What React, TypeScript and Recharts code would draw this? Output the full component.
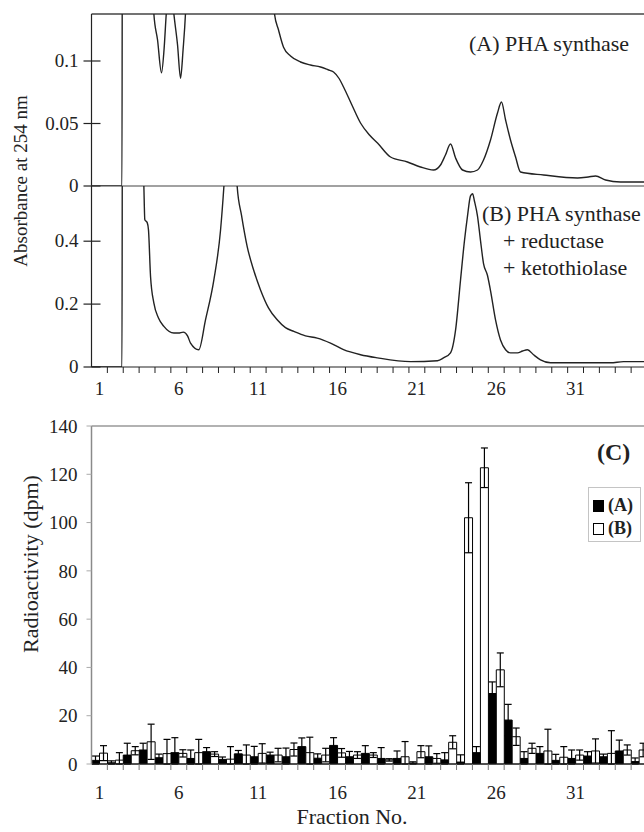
import React from "react";
import {
  LineChart,
  Line,
  BarChart,
  Bar,
  ErrorBar,
  XAxis,
  YAxis,
  ReferenceLine,
  Legend,
} from "recharts";

const FONT = '"Liberation Serif", "Times New Roman", serif';
const INK = "#222";

// fraction numbers and the labelled ones
const FRACTIONS = [
  1, 2, 3, 4, 5, 6, 7, 8, 9, 10, 11, 12, 13, 14, 15, 16, 17, 18, 19, 20, 21, 22, 23, 24, 25, 26, 27, 28, 29, 30, 31,
  32, 33, 34, 35,
];
const FRACTION_LABELS = [1, 6, 11, 16, 21, 26, 31];

// (A) PHA synthase, absorbance at 254 nm
const TRACE_A_X = [
  0.5, 2.42, 2.45, 4.2, 4.43, 4.66, 4.91, 5.07, 5.21, 5.45, 5.69, 5.92, 6.11, 6.27, 6.42, 6.6, 11.8, 12.03, 12.28,
  12.6, 13.04, 13.67, 14.3, 14.93, 15.4, 15.75, 16.1, 16.38, 16.9, 17.45, 18.0, 18.52, 19.34, 20.41, 21.23, 22.05,
  22.49, 22.8, 23.12, 23.44, 23.88, 24.38, 24.82, 25.2, 25.64, 26.08, 26.33, 26.59, 26.9, 27.22, 27.53, 28.98, 31.12,
  31.8, 32.26, 32.89, 33.83, 35.5,
];
const TRACE_A_Y = [
  0, 0, 0.3, 0.3, 0.1376, 0.117, 0.0906, 0.109, 0.1376, 0.17, 0.1376, 0.113, 0.0862, 0.109, 0.1376, 0.2, 0.2, 0.1376,
  0.125, 0.111, 0.104, 0.0992, 0.0968, 0.0952, 0.093, 0.0912, 0.086, 0.0792, 0.065, 0.0504, 0.041, 0.0344, 0.0232,
  0.0192, 0.0152, 0.0128, 0.0168, 0.0248, 0.0336, 0.0224, 0.0128, 0.0112, 0.0128, 0.0208, 0.0368, 0.0584, 0.0672,
  0.0528, 0.0368, 0.0232, 0.0112, 0.0088, 0.0064, 0.0072, 0.008, 0.0048, 0.0032, 0.0032,
];

// (B) PHA synthase + reductase + ketothiolase
const TRACE_B_X = [
  0.5, 2.42, 2.45, 3.6, 3.8, 3.86, 4.01, 4.09, 4.22, 4.43, 4.72, 5.06, 5.69, 5.98, 6.28, 6.55, 6.74, 7.26, 7.68,
  8.21, 8.63, 8.84, 9.1, 9.45, 9.68, 9.95, 10.31, 10.71, 11.15, 11.65, 12.2, 12.72, 13.25, 13.98, 14.72, 15.56, 16.38,
  17.45, 18.52, 20.6, 22.3, 22.68, 23.12, 23.44, 23.75, 24.0, 24.19, 24.38, 24.51, 24.63, 24.82, 25.01, 25.2, 25.45,
  25.64, 25.96, 26.27, 26.59, 26.9, 27.34, 27.66, 27.97, 28.35, 28.79, 29.42, 33.2, 34.02, 35.5,
];
const TRACE_B_Y = [
  0, 0, 1.0, 1.0, 0.574, 0.468, 0.459, 0.436, 0.288, 0.203, 0.156, 0.129, 0.108, 0.108, 0.111, 0.099, 0.076, 0.055,
  0.149, 0.277, 0.435, 0.573, 0.8, 0.8, 0.573, 0.483, 0.383, 0.309, 0.245, 0.188, 0.15, 0.125, 0.113, 0.099, 0.092,
  0.076, 0.055, 0.039, 0.029, 0.017, 0.02, 0.029, 0.045, 0.118, 0.276, 0.402, 0.48, 0.544, 0.551, 0.527, 0.48, 0.402,
  0.329, 0.291, 0.243, 0.149, 0.086, 0.055, 0.045, 0.045, 0.051, 0.055, 0.039, 0.023, 0.0136, 0.0136, 0.017, 0.017,
];

const ABS_A_MAX = 0.1376;
const ABS_B_MAX = 0.5755;
const ABS_A_TICKS = [0, 0.05, 0.1];
const ABS_B_TICKS = [0, 0.2, 0.4];

// (C) radioactivity per fraction
const DPM_MAX = 140;
const DPM_TICKS = [0, 20, 40, 60, 80, 100, 120, 140];
const DPM_A = [
  1.5, 0.5, 3.7, 5.8, 2.6, 4.7, 2.3, 5.1, 1.9, 4.2, 3.0, 3.7, 3.0, 7.2, 2.4, 7.7, 3.0, 4.4, 2.3, 2.3, 0.4, 3.0, 1.7,
  0.8, 4.7, 29.2, 18.2, 2.3, 4.4, 1.5, 2.3, 3.3, 3.0, 5.4, 1.0,
];
const DPM_A_ERR = [
  1.8, 0.8, 4.9, 2.8, 1.5, 6.2, 3.5, 1.7, 1.0, 1.4, 4.3, 1.2, 3.6, 3.6, 1.8, 3.2, 2.2, 3.2, 4.5, 3.1, 0.5, 4.5, 3.0,
  3.0, 2.5, 4.8, 6.5, 2.8, 2.8, 2.5, 3.5, 1.8, 1.1, 4.5, 1.5,
];
const DPM_B = [
  4.5, 1.6, 5.5, 9.2, 4.3, 4.4, 4.7, 4.1, 2.0, 3.7, 4.4, 3.7, 6.0, 4.7, 3.7, 4.6, 3.7, 3.7, 1.7, 3.0, 5.1, 2.3, 9.0,
  102, 122.7, 39, 11.3, 6.5, 5.4, 2.8, 3.7, 5.4, 4.4, 5.8, 5.8,
];
const DPM_B_ERR = [
  3.1, 3.1, 1.7, 7.3, 5.9, 1.5, 5.5, 1.0, 5.2, 4.2, 4.0, 2.8, 2.7, 6.4, 2.8, 1.8, 1.4, 1.0, 0.5, 6.3, 2.5, 2.0, 2.7,
  14.5, 8.2, 7.0, 3.6, 2.1, 9.0, 4.4, 2.1, 5.0, 9.4, 2.1, 2.8,
];

const SERIES = [
  { key: "a", err: "aErr", name: "(A)", fill: "#000" },
  { key: "b", err: "bErr", name: "(B)", fill: "#fff" },
];

const X_DOMAIN = [FRACTIONS[0] - 0.5, FRACTIONS[FRACTIONS.length - 1] + 0.5];
// tick marks sit between fractions, labels on every fifth fraction
const X_TICKS = [...FRACTIONS.slice(0, -1).map((f) => f + 0.5), ...FRACTION_LABELS].sort((p, q) => p - q);

const traceA = TRACE_A_X.map((f, i) => ({ f, v: TRACE_A_Y[i] }));
const traceB = TRACE_B_X.map((f, i) => ({ f, v: TRACE_B_Y[i] }));
const dpmData = FRACTIONS.map((f, i) => ({
  f,
  a: DPM_A[i],
  b: DPM_B[i],
  aErr: [Math.min(DPM_A_ERR[i], DPM_A[i]), DPM_A_ERR[i]],
  bErr: [Math.min(DPM_B_ERR[i], DPM_B[i]), DPM_B_ERR[i]],
}));

const W = 700;
const MARGIN_L = 31.5;
const MARGIN_R = 53;
const Y_W = 60;

function FractionTick(props: any) {
  const { x, y, payload, offset, color } = props;
  const v = payload.value;
  if (Number.isInteger(v)) {
    return (
      <text x={x} y={y + offset} textAnchor="middle" fontFamily={FONT} fontSize={19} fill={INK}>
        {v}
      </text>
    );
  }
  return <line x1={x} y1={y} x2={x} y2={y + 6} stroke={color} strokeWidth={1} />;
}

function AbsTick(props: any) {
  const { x, y, payload } = props;
  return (
    <g>
      <line x1={x - 8} y1={y} x2={x + 9} y2={y} stroke={INK} strokeWidth={1.2} />
      <text x={x - 13} y={y + 6} textAnchor="end" fontFamily={FONT} fontSize={19} fill={INK}>
        {payload.value}
      </text>
    </g>
  );
}

function DpmLegend() {
  return (
    <div
      style={{
        border: "1px solid #c4c4c4",
        background: "#fff",
        padding: "6px 0 1px 4px",
        width: 47,
        fontFamily: FONT,
        fontWeight: "bold",
        fontSize: 18,
        color: INK,
      }}
    >
      {SERIES.map((s) => (
        <div key={s.key} style={{ display: "flex", alignItems: "center", height: 23 }}>
          <span
            style={{
              display: "inline-block",
              width: 9,
              height: 10,
              background: s.fill,
              border: "1px solid #000",
              marginRight: 4,
            }}
          />
          <span>{s.name}</span>
        </div>
      ))}
    </div>
  );
}

export default function App() {
  return (
    <div
      style={{
        position: "absolute",
        left: 0,
        top: 0,
        width: 644,
        height: 832,
        overflow: "hidden",
        background: "#fff",
      }}
    >
      {/* panel A */}
      <div style={{ position: "absolute", left: 0, top: 0 }}>
        <LineChart width={W} height={200} data={traceA} margin={{ top: 14, right: MARGIN_R, left: MARGIN_L, bottom: 14 }}>
          <XAxis type="number" dataKey="f" domain={X_DOMAIN} allowDataOverflow hide />
          <YAxis
            type="number"
            domain={[0, ABS_A_MAX]}
            allowDataOverflow
            ticks={ABS_A_TICKS}
            interval={0}
            tick={<AbsTick />}
            tickSize={0}
            tickMargin={0}
            tickLine={false}
            axisLine={{ stroke: INK, strokeWidth: 1.2 }}
            width={Y_W}
          />
          <ReferenceLine y={ABS_A_MAX} stroke="#444" strokeWidth={1.5} />
          <Line
            dataKey="v"
            type="monotone"
            dot={false}
            stroke={INK}
            strokeWidth={1.4}
            isAnimationActive={false}
          />
        </LineChart>
      </div>

      {/* panel B */}
      <div style={{ position: "absolute", left: 0, top: 176 }}>
        <LineChart width={W} height={230} data={traceB} margin={{ top: 10, right: MARGIN_R, left: MARGIN_L, bottom: 0 }}>
          <XAxis
            type="number"
            dataKey="f"
            domain={X_DOMAIN}
            allowDataOverflow
            ticks={X_TICKS}
            interval={0}
            tick={<FractionTick offset={28} color={INK} />}
            tickSize={0}
            tickMargin={0}
            tickLine={false}
            axisLine={{ stroke: INK, strokeWidth: 1.2 }}
            height={39}
          />
          <YAxis
            type="number"
            domain={[0, ABS_B_MAX]}
            allowDataOverflow
            ticks={ABS_B_TICKS}
            interval={0}
            tick={<AbsTick />}
            tickSize={0}
            tickMargin={0}
            tickLine={false}
            axisLine={{ stroke: INK, strokeWidth: 1.2 }}
            width={Y_W}
          />
          <ReferenceLine y={ABS_B_MAX} stroke="#444" strokeWidth={1.2} />
          <Line
            dataKey="v"
            type="monotone"
            dot={false}
            stroke={INK}
            strokeWidth={1.4}
            isAnimationActive={false}
          />
        </LineChart>
      </div>

      {/* panel C */}
      <div style={{ position: "absolute", left: 0, top: 410 }}>
        <BarChart
          width={W}
          height={394}
          data={dpmData}
          margin={{ top: 16, right: MARGIN_R, left: MARGIN_L, bottom: 0 }}
          barCategoryGap={0}
          barGap={0}
        >
          <XAxis
            type="number"
            dataKey="f"
            domain={X_DOMAIN}
            allowDataOverflow
            ticks={X_TICKS}
            interval={0}
            tick={<FractionTick offset={35} color="#777" />}
            tickSize={0}
            tickMargin={0}
            tickLine={false}
            axisLine={{ stroke: INK, strokeWidth: 1.2 }}
            height={40}
          />
          <YAxis
            type="number"
            domain={[0, DPM_MAX]}
            ticks={DPM_TICKS}
            interval={0}
            tick={{ fontFamily: FONT, fontSize: 19, fill: INK }}
            tickSize={5}
            tickMargin={9}
            tickLine={{ stroke: "#aaa" }}
            axisLine={{ stroke: "#8a8a8a", strokeWidth: 1.5 }}
            width={Y_W}
          />
          <ReferenceLine y={DPM_MAX} stroke="#999" strokeWidth={1.5} />
          {SERIES.map((s) => (
            <Bar
              key={s.key}
              dataKey={s.key}
              name={s.name}
              fill={s.fill}
              stroke="#000"
              strokeWidth={1}
              isAnimationActive={false}
            >
              <ErrorBar dataKey={s.err} width={3.5} stroke="#000" strokeWidth={1.2} direction="y" />
            </Bar>
          ))}
          <Legend
            layout="vertical"
            align="center"
            verticalAlign="middle"
            wrapperStyle={{ left: 588, top: 77 }}
            content={() => <DpmLegend />}
          />
        </BarChart>
      </div>

      {/* texts */}
      <svg
        width={644}
        height={832}
        style={{ position: "absolute", left: 0, top: 0, pointerEvents: "none" }}
        fontFamily={FONT}
        fill={INK}
      >
        <text x={27} y={181} fontSize={19} textAnchor="middle" transform="rotate(-90 27 181)">
          Absorbance at 254 nm
        </text>
        <text x={38} y={564} fontSize={22} textAnchor="middle" transform="rotate(-90 38 564)">
          Radioactivity (dpm)
        </text>
        <text x={469} y={50.5} fontSize={22}>
          (A) PHA synthase
        </text>
        <text x={482} y={220.5} fontSize={22}>
          (B) PHA synthase
        </text>
        <text x={503} y={247.5} fontSize={22}>
          + reductase
        </text>
        <text x={503} y={274.5} fontSize={22}>
          + ketothiolase
        </text>
        <text x={597} y={460} fontSize={24} fontWeight="bold">
          (C)
        </text>
        <text x={352} y={824} fontSize={22} textAnchor="middle">
          Fraction No.
        </text>
      </svg>
    </div>
  );
}
